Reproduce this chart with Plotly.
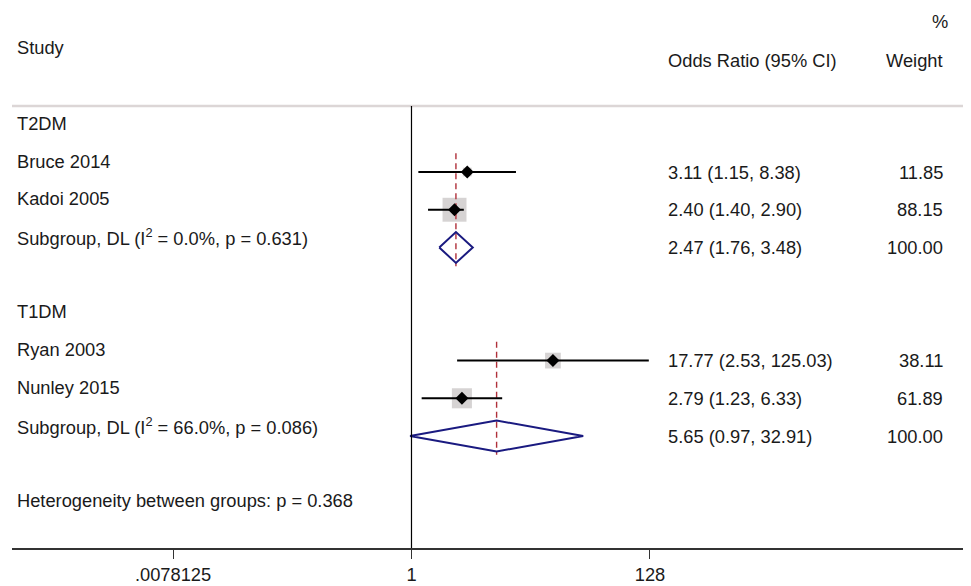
import plotly.graph_objects as go

# ---- data ----
groups = ["T2DM", "T1DM"]
studies = ["Bruce 2014", "Kadoi 2005", "Ryan 2003", "Nunley 2015"]
study_group = ["T2DM", "T2DM", "T1DM", "T1DM"]
study_or = [3.11, 2.40, 17.77, 2.79]
study_lo = [1.15, 1.40, 2.53, 1.23]
study_hi = [8.38, 2.90, 125.03, 6.33]
study_w = [11.85, 88.15, 38.11, 61.89]

sub_label = ["Subgroup, DL (I<sup>2</sup> = 0.0%, p = 0.631)",
             "Subgroup, DL (I<sup>2</sup> = 66.0%, p = 0.086)"]
sub_or = [2.47, 5.65]
sub_lo = [1.76, 0.97]
sub_hi = [3.48, 32.91]
sub_w = [100.00, 100.00]

het_text = "Heterogeneity between groups: p = 0.368"
tick_vals = [0.0078125, 1, 128]
tick_text = [".0078125", "1", "128"]

# ---- layout of rows ----
FONT = "Liberation Sans, Arial, sans-serif"
FS = 18.3
TXT = "#1a1a1a"

r = 0
study_rows = {}
sub_rows = {}
head_rows = {}
for gi, g in enumerate(groups):
    head_rows[g] = r
    r += 1
    for si, s in enumerate(studies):
        if study_group[si] == g:
            study_rows[si] = r
            r += 1
    sub_rows[gi] = r
    r += 2
het_row = r - 1 + 1

fig = go.Figure()

# weight boxes
bx, by, bs = [], [], []
for i in range(len(studies)):
    bx.append(study_or[i]); by.append(study_rows[i]); bs.append(2.55 * study_w[i] ** 0.5)
fig.add_trace(go.Scatter(x=bx, y=by, mode="markers",
                         marker=dict(symbol="square", size=bs, color="#c4c0c0", line=dict(width=0)),
                         hoverinfo="skip", showlegend=False))

# subgroup dashed lines
for gi in range(len(groups)):
    first = min(study_rows[i] for i in range(len(studies)) if study_group[i] == groups[gi])
    fig.add_trace(go.Scatter(x=[sub_or[gi], sub_or[gi]], y=[first - 0.5, sub_rows[gi] + 0.5],
                             mode="lines", line=dict(color="#b0303a", width=1.4, dash="6px,4px"),
                             hoverinfo="skip", showlegend=False))

# CI lines
cx, cy = [], []
for i in range(len(studies)):
    cx += [study_lo[i], study_hi[i], None]
    cy += [study_rows[i], study_rows[i], None]
fig.add_trace(go.Scatter(x=cx, y=cy, mode="lines", line=dict(color="black", width=2),
                         hoverinfo="skip", showlegend=False))

# point estimates
fig.add_trace(go.Scatter(x=study_or, y=[study_rows[i] for i in range(len(studies))], mode="markers",
                         marker=dict(symbol="diamond", size=10, color="black"),
                         hoverinfo="skip", showlegend=False))

# diamonds
for gi in range(len(groups)):
    yr = sub_rows[gi]
    h = 0.41
    fig.add_trace(go.Scatter(x=[sub_lo[gi], sub_or[gi], sub_hi[gi], sub_or[gi], sub_lo[gi]],
                             y=[yr, yr - h, yr, yr + h, yr], mode="lines",
                             line=dict(color="#1a1a80", width=2),
                             hoverinfo="skip", showlegend=False))

# ---- text ----
X_OR = (666 - 12) / 959
X_W = (945 - 12) / 959
X_L = (15 - 12) / 959
ann = []

def left(text, row, yshift=11):
    ann.append(dict(x=X_L, xref="paper", y=row, yref="y", text=text, showarrow=False,
                    xanchor="left", yanchor="middle", yshift=yshift,
                    font=dict(family=FONT, size=FS, color=TXT)))

def right_cols(ortext, wtext, row):
    ann.append(dict(x=X_OR, xref="paper", y=row, yref="y", text=ortext, showarrow=False,
                    xanchor="left", yanchor="middle", font=dict(family=FONT, size=FS, color=TXT)))
    ann.append(dict(x=X_W, xref="paper", y=row, yref="y", text=wtext, showarrow=False,
                    xanchor="right", yanchor="middle", font=dict(family=FONT, size=FS, color=TXT)))

for g in groups:
    left(g, head_rows[g])
for i, s in enumerate(studies):
    left(s, study_rows[i])
    right_cols(f"{study_or[i]:.2f} ({study_lo[i]:.2f}, {study_hi[i]:.2f})", f"{study_w[i]:.2f}", study_rows[i])
for gi in range(len(groups)):
    left(sub_label[gi], sub_rows[gi], yshift=10)
    right_cols(f"{sub_or[gi]:.2f} ({sub_lo[gi]:.2f}, {sub_hi[gi]:.2f})", f"{sub_w[gi]:.2f}", sub_rows[gi])
left(het_text, het_row)

# headers
ann.append(dict(x=X_L, xref="paper", y=-2.29, yref="y", text="Study", showarrow=False,
                xanchor="left", yanchor="middle", font=dict(family=FONT, size=FS, color=TXT)))
ann.append(dict(x=X_OR, xref="paper", y=-1.97, yref="y", text="Odds Ratio (95% CI)", showarrow=False,
                xanchor="left", yanchor="middle", font=dict(family=FONT, size=FS, color=TXT)))
ann.append(dict(x=X_W, xref="paper", y=-1.97, yref="y", text="Weight", showarrow=False,
                xanchor="right", yanchor="middle", font=dict(family=FONT, size=FS, color=TXT)))
ann.append(dict(x=(950 - 12) / 959, xref="paper", y=-2.98, yref="y", text="%", showarrow=False,
                xanchor="right", yanchor="middle", font=dict(family=FONT, size=FS, color=TXT)))

shapes = [
    dict(type="line", xref="paper", yref="y", x0=0, x1=1, y0=-0.75, y1=-0.75,
         line=dict(color="#dcd6d6", width=2.5)),
    dict(type="line", xref="x", yref="y", x0=1, x1=1, y0=-0.75, y1=10.97,
         line=dict(color="black", width=1.2)),
]

fig.update_layout(
    width=963, height=578,
    margin=dict(l=4, r=0, t=0, b=38),
    paper_bgcolor="white", plot_bgcolor="white",
    annotations=ann, shapes=shapes, showlegend=False,
    xaxis=dict(type="log", range=[-3.530, 4.944], tickvals=tick_vals, ticktext=tick_text,
               showgrid=False, zeroline=False, showline=True, linecolor="#333", linewidth=1.5,
               ticks="outside", ticklen=9, tickcolor="#333", tickwidth=1.2,
               tickfont=dict(family=FONT, size=FS, color=TXT)),
    yaxis=dict(range=[10.97, -3.35], visible=False, showgrid=False, zeroline=False),
)

fig.write_html("out.html")
